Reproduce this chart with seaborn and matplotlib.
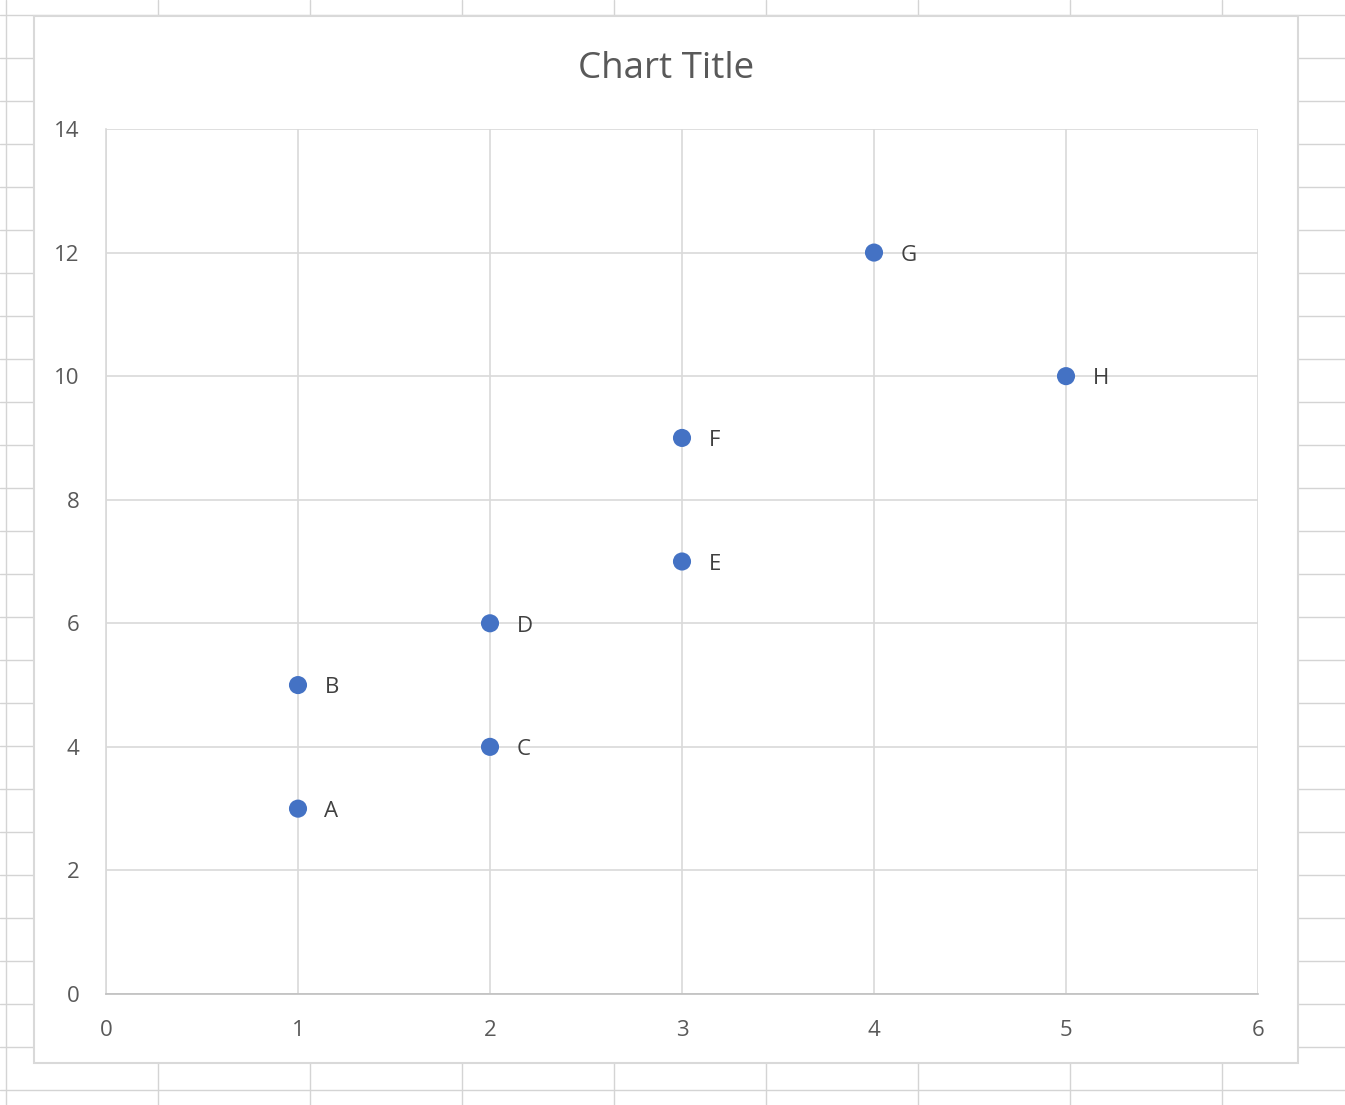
import numpy as np
import pandas as pd
import seaborn as sns
import matplotlib.pyplot as plt
from matplotlib.patches import Rectangle

sns.set_style('white')
plt.rcParams['font.family'] = ['Open Sans', 'DejaVu Sans']

labels = ['A', 'B', 'C', 'D', 'E', 'F', 'G', 'H']
x_vals = [1, 1, 2, 2, 3, 3, 4, 5]
y_vals = [3, 5, 4, 6, 7, 9, 12, 10]

df = pd.DataFrame({'x': x_vals, 'y': y_vals, 'label': labels})

W, H = 1345, 1105
fig = plt.figure(figsize=(W / 100, H / 100), dpi=100)

# spreadsheet cell grid behind the chart
bg = fig.add_axes([0, 0, 1, 1])
bg.set_xlim(0, W)
bg.set_ylim(H, 0)
bg.set_xticks(np.arange(6, W, 152))
bg.set_yticks(np.arange(15, H, 43))
bg.grid(True, color='#d4d4d4', lw=1)
bg.tick_params(length=0, labelbottom=False, labelleft=False)
for s in bg.spines.values():
    s.set_visible(False)

# chart area
bg.add_patch(Rectangle((34, 16), 1264, 1047, facecolor='white',
                       edgecolor='#d9d9d9', lw=1.5, zorder=3))
bg.text(666, 69, 'Chart Title', ha='center', va='center',
        fontsize=26.5, color='#595959', zorder=4)

ax = fig.add_axes([106 / W, 1 - 994 / H, (1258 - 106) / W, (994 - 129) / H])
ax.set_zorder(5)
sns.scatterplot(data=df, x='x', y='y', ax=ax, color='#4472C4',
                s=170, edgecolor='none', zorder=4, clip_on=False)
for _, r in df.iterrows():
    ax.annotate(r['label'], (r['x'], r['y']), xytext=(19, -2),
                textcoords='offset points', ha='left', va='center',
                fontsize=16, color='#404040')

ax.set_xlim(0, 6)
ax.set_ylim(0, 14)
ax.set_xticks(range(0, 7))
ax.set_yticks(range(0, 15, 2))
ax.grid(True, color='#d9d9d9', lw=1.2)
ax.set_axisbelow(True)
ax.set_xlabel('')
ax.set_ylabel('')
for side in ['top', 'right']:
    ax.spines[side].set_visible(False)
ax.spines['left'].set_color('#d9d9d9')
ax.spines['bottom'].set_color('#bfbfbf')
ax.spines['left'].set_linewidth(1.2)
ax.spines['bottom'].set_linewidth(1.2)
ax.tick_params(length=0, labelsize=16, labelcolor='#595959')
ax.tick_params(axis='x', pad=19)
ax.tick_params(axis='y', pad=19)

fig.savefig('out.png', dpi=100)
